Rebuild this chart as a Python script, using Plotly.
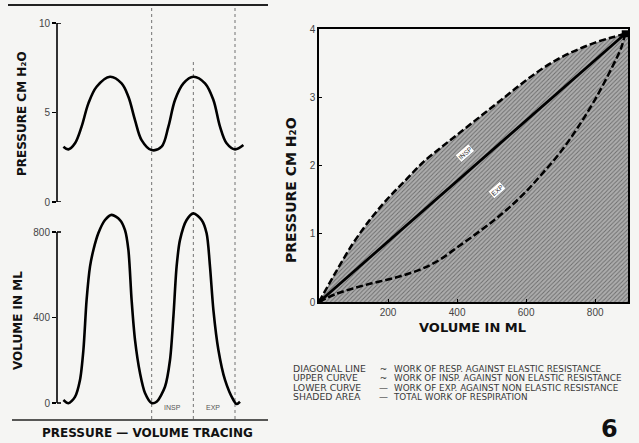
import plotly.graph_objects as go

W, H = 639, 443

# ---------------- data ----------------
# Pressure tracing (time in s, pressure in cm H2O)
time_p = [0.32, 0.57, 0.9, 1.23, 1.57, 1.98, 2.65, 3.23, 3.57, 3.9, 4.23, 4.73,
          5.23, 5.57, 5.9, 6.32, 6.82, 7.4, 7.82, 8.15, 8.48, 8.9, 9.32]
pressure_cm = [3.09, 2.94, 3.28, 4.21, 5.51, 6.44, 7.0, 6.63, 5.88, 4.58, 3.46, 2.9,
               3.09, 4.21, 5.7, 6.63, 7.0, 6.63, 5.7, 4.21, 3.28, 2.94, 3.18]

# Volume tracing (time in s, volume in ml)
time_v = [0.32, 0.57, 0.9, 1.15, 1.32, 1.48, 1.65, 1.82, 2.07, 2.4, 2.73, 3.15, 3.4, 3.57,
          3.73, 3.9, 4.15, 4.4, 4.73, 4.98,
          5.4, 5.65, 5.82, 5.98, 6.15, 6.48, 6.82, 7.23, 7.48, 7.65, 7.82, 8.07,
          8.4, 8.82, 8.98, 9.15]
volume_ml = [14, -1, 29, 108, 248, 482, 638, 716, 795, 856, 880, 856, 809, 716,
             482, 295, 140, 47, 0, 6,
             76, 201, 404, 638, 763, 856, 887, 856, 794, 638, 435, 248,
             108, 14, -5, 6]

marker_times = [4.73, 6.82, 8.9]         # dotted INSP / EXP markers
phase_labels = ["INSP", "EXP"]
phase_label_times = [5.75, 7.8]

# Pressure-volume loop
upper_vol = [0, 50, 100, 150, 200, 250, 300, 350, 400, 450, 500, 550, 600, 650, 700, 750, 800, 850, 887]
upper_prs = [0, 0.45, 0.87, 1.22, 1.52, 1.78, 2.04, 2.25, 2.45, 2.65, 2.85, 3.05, 3.25, 3.43, 3.58, 3.7, 3.8, 3.88, 3.93]
lower_vol = [0, 50, 100, 150, 200, 250, 300, 350, 400, 450, 500, 550, 600, 650, 700, 750, 800, 850, 875, 887]
lower_prs = [0, 0.12, 0.2, 0.27, 0.33, 0.4, 0.49, 0.62, 0.8, 0.98, 1.17, 1.38, 1.62, 1.9, 2.2, 2.56, 2.97, 3.45, 3.72, 3.93]
diag_vol = [0, 887]
diag_prs = [0, 3.93]

p_ticks = [0, 5, 10]
v_ticks = [0, 400, 800]
pv_x_ticks = [200, 400, 600, 800]
pv_y_ticks = [0, 1, 2, 3, 4]
pv_x_range = [0, 895]
pv_y_range = [0, 4]

legend_labels = ["DIAGONAL LINE", "UPPER CURVE", "LOWER CURVE", "SHADED AREA"]
legend_seps = ["~", "~", "—", "—"]
legend_texts = ["WORK OF RESP. AGAINST ELASTIC RESISTANCE",
                "WORK OF INSP. AGAINST NON ELASTIC RESISTANCE",
                "WORK OF EXP. AGAINST NON ELASTIC RESISTANCE",
                "TOTAL WORK OF RESPIRATION"]

# ---------------- helpers ----------------
def fx(px):
    return px / W

def fy(py):
    return 1 - py / H

BG = "#f5f5f3"
TICKFONT = dict(family="Liberation Sans", size=10, color="#444")
BOLD = "DejaVu Sans"

fig = go.Figure()

# left tracings
fig.add_trace(go.Scatter(x=time_p, y=pressure_cm, mode="lines", line=dict(color="black", width=2.6, shape="spline", smoothing=1.0),
                         xaxis="x", yaxis="y", showlegend=False, hoverinfo="skip"))
fig.add_trace(go.Scatter(x=time_v, y=volume_ml, mode="lines", line=dict(color="black", width=2.6, shape="spline", smoothing=0.8),
                         xaxis="x2", yaxis="y2", showlegend=False, hoverinfo="skip"))

# PV loop: shaded area below upper curve
fill_x = upper_vol + [pv_x_range[1]]
fill_y = upper_prs + [upper_prs[-1]]
fig.add_trace(go.Scatter(x=fill_x, y=fill_y, mode="lines", fill="tozeroy",
                         fillcolor="#a8a8a8",
                         fillpattern=dict(shape="/", fgcolor="#6c6c6c", bgcolor="#adadad", size=3, solidity=0.3),
                         line=dict(width=0, shape="spline"), xaxis="x3", yaxis="y3", showlegend=False, hoverinfo="skip"))
fig.add_trace(go.Scatter(x=upper_vol, y=upper_prs, mode="lines",
                         line=dict(color="black", width=2.5, dash="7px,3px", shape="spline"),
                         xaxis="x3", yaxis="y3", showlegend=False, hoverinfo="skip"))
fig.add_trace(go.Scatter(x=lower_vol, y=lower_prs, mode="lines",
                         line=dict(color="black", width=2.5, dash="7px,3px", shape="spline"),
                         xaxis="x3", yaxis="y3", showlegend=False, hoverinfo="skip"))
fig.add_trace(go.Scatter(x=diag_vol, y=diag_prs, mode="lines+markers",
                         line=dict(color="black", width=2.8),
                         marker=dict(symbol="square", size=7, color="black"),
                         xaxis="x3", yaxis="y3", showlegend=False, hoverinfo="skip"))

# ---------------- axes ----------------
left_dom = [fx(57), fx(255)]
t_range = [0, (255 - 57) / 20]
v_ppm = (403 - 232) / 800
v_range = [-(410 - 403) / v_ppm, 800 + (232 - 205) / v_ppm]

common_hidden = dict(visible=False, showgrid=False, zeroline=False, automargin=False)
fig.update_layout(
    template="none",
    xaxis=dict(domain=left_dom, range=t_range, anchor="y", **common_hidden),
    xaxis2=dict(domain=left_dom, range=t_range, anchor="y2", **common_hidden),
    yaxis=dict(domain=[fy(202), fy(23)], range=[0, 10], anchor="x", tickvals=p_ticks,
               ticks="outside", ticklen=4, tickwidth=1.2, tickcolor="black", automargin=False,
               showline=False, showgrid=False, zeroline=False, tickfont=TICKFONT),
    yaxis2=dict(domain=[fy(410), fy(205)], range=v_range, anchor="x2", tickvals=v_ticks,
                ticks="outside", ticklen=4, tickwidth=1.2, tickcolor="black", automargin=False,
                showline=False, showgrid=False, zeroline=False, tickfont=TICKFONT),
    xaxis3=dict(domain=[fx(319), fx(628)], range=pv_x_range, anchor="y3", tickvals=pv_x_ticks,
                ticks="inside", ticklen=3, tickcolor="black", showline=True, mirror=True, automargin=False,
                linecolor="black", linewidth=1.6, showgrid=False, zeroline=False, tickfont=TICKFONT),
    yaxis3=dict(domain=[fy(302), fy(29)], range=pv_y_range, anchor="x3", tickvals=pv_y_ticks,
                ticks="inside", ticklen=3, tickcolor="black", showline=True, mirror=True, automargin=False,
                linecolor="black", linewidth=1.6, showgrid=False, zeroline=False, tickfont=TICKFONT),
)

shapes = []
# left spines with bracket ends
for yref, lo, hi in [("y", p_ticks[0], p_ticks[-1]), ("y2", v_ticks[0], v_ticks[-1])]:
    xr = "x domain" if yref == "y" else "x2 domain"
    shapes.append(dict(type="line", xref=xr, yref=yref,
                       x0=0, x1=0, y0=lo, y1=hi, line=dict(color="black", width=1.6)))
    for yv in (lo, hi):
        shapes.append(dict(type="line", xref=xr, yref=yref,
                           x0=0, x1=4 / 198, y0=yv, y1=yv, line=dict(color="black", width=1.6)))
# dotted phase markers
tops = [7, 60, 7]
for t, top in zip(marker_times, tops):
    shapes.append(dict(type="line", xref="x", yref="paper", x0=t, x1=t, y0=fy(419), y1=fy(top),
                       line=dict(color="#888", width=1.2, dash="dot"), layer="below"))
# rules
shapes.append(dict(type="line", xref="paper", yref="paper", x0=fx(8), x1=fx(268), y0=fy(5), y1=fy(5),
                   line=dict(color="#222", width=2)))
shapes.append(dict(type="line", xref="paper", yref="paper", x0=fx(12), x1=fx(268), y0=fy(420), y1=fy(420),
                   line=dict(color="#222", width=1.5)))

ann = []
def add_text(text, px, py, size, bold=False, angle=0, xanchor="center", color="#111", family=None,
             align="center"):
    ann.append(dict(text=text, x=fx(px), y=fy(py), xref="paper", yref="paper", showarrow=False,
                    xanchor=xanchor, yanchor="middle", textangle=angle, align=align, borderpad=0,
                    font=dict(family=family or (BOLD if bold else "Liberation Sans"), size=size, color=color,
                              weight="bold" if bold else "normal")))

add_text("PRESSURE CM H₂O", 22, 114, 12, bold=True, angle=-90)
add_text("VOLUME IN ML", 18, 321, 12, bold=True, angle=-90)
add_text("PRESSURE — VOLUME TRACING", 147, 433, 12, bold=True)
add_text("PRESSURE CM H₂O", 291, 190, 14, bold=True, angle=-90)
add_text("VOLUME IN ML", 472, 327, 13, bold=True)
add_text("6", 609, 429, 24, bold=True, color="#111")

for lab, t in zip(phase_labels, phase_label_times):
    ann.append(dict(text=lab, x=t, y=fy(413), xref="x", yref="paper", showarrow=False,
                    font=dict(family="Liberation Sans", size=7, color="#555")))

# INSP / EXP boxes on PV loop
for lab, xv, yv in [("INSP", 423, 2.18), ("EXP", 516, 1.64)]:
    ann.append(dict(text=lab, x=xv, y=yv, xref="x3", yref="y3", showarrow=False, textangle=-41,
                    bgcolor="white", bordercolor="#777", borderwidth=0.6, borderpad=1,
                    font=dict(family="Liberation Sans", size=6.5, color="#333")))

# legend text block: three aligned columns, line spacing set by base font size
def col(items, size_px):
    return "<br>".join(f"<span style='font-size:{size_px}px'>{s}</span>" for s in items)

mid_py = 382.5
add_text(col(legend_labels, 9.3), 292, mid_py, 7.3, xanchor="left", align="left",
         color="#3a3a3a", family="DejaVu Sans")
add_text(col(legend_seps, 9), 383, mid_py, 7.3, color="#222", family="DejaVu Sans")
add_text(col(legend_texts, 8.8), 392, mid_py, 7.3, xanchor="left", align="left",
         color="#3a3a3a", family="DejaVu Sans")

fig.update_layout(shapes=shapes, annotations=ann, width=W, height=H, autosize=False,
                  margin=dict(l=0, r=0, t=0, b=0, pad=0), paper_bgcolor=BG, plot_bgcolor="rgba(0,0,0,0)",
                  showlegend=False)

fig.write_html("out.html", config={"displayModeBar": False, "staticPlot": True},
               post_script="document.body.style.margin='0';document.body.style.padding='0';document.body.style.overflow='hidden';")
